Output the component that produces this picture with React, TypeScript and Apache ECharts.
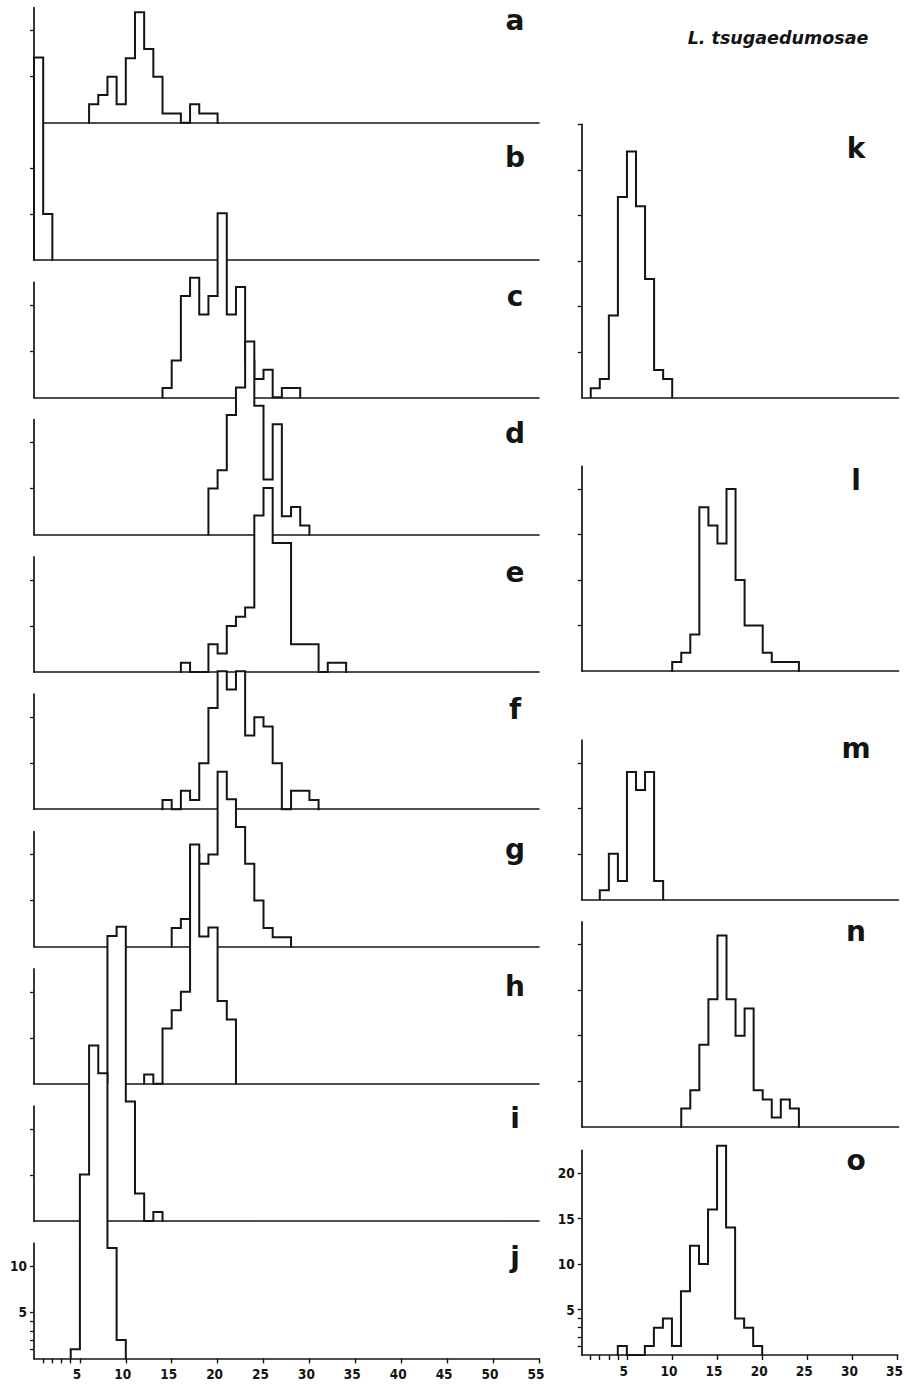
import React, { useEffect, useRef } from "react";
import * as echarts from "echarts";

// ---------- data (counts per unit bin, first bin starts at start*) ----------
const leftLetters = ["a", "b", "c", "d", "e", "f", "g", "h", "i", "j"];
const rightLetters = ["k", "l", "m", "n", "o"];
const titleText = "L. tsugaedumosae";

const startA = 6;
const countsA = [2, 3, 5, 2, 7, 12, 8, 5, 1, 1, 0, 2, 1, 1];
const startB = 0;
const countsB = [22, 5];
const startC = 14;
const countsC = [1, 4, 11, 13, 9, 11, 20, 9, 12, 4, 2, 3, 0, 1, 1];
const startD = 19;
const countsD = [5, 7, 13, 16, 21, 14, 6, 12, 2, 3, 1];
const startE = 16;
const countsE = [1, 0, 0, 3, 2, 5, 6, 7, 17, 20, 14, 14, 3, 3, 3, 0, 1, 1];
const startF = 14;
const countsF = [1, 0, 2, 1, 5, 11, 15, 13, 15, 8, 10, 9, 5, 0, 2, 2, 1];
const startG = 15;
const countsG = [2, 3, 10, 9, 10, 19, 16, 13, 9, 5, 2, 1, 1];
const startH = 12;
const countsH = [1, 0, 6, 8, 10, 26, 16, 17, 9, 7];
const startI = 6;
const countsI = [5, 15, 31, 32, 13, 3, 0, 1];
const startJ = 4;
const countsJ = [1, 20, 34, 31, 12, 2];

const startK = 1;
const countsK = [1, 2, 9, 22, 27, 21, 13, 3, 2];
const startL = 10;
const countsL = [1, 2, 4, 18, 16, 14, 20, 10, 5, 5, 2, 1, 1, 1];
const startM = 2;
const countsM = [1, 5, 2, 14, 12, 14, 2];
const startN = 11;
const countsN = [2, 4, 9, 14, 21, 14, 10, 13, 4, 3, 1, 3, 2];
const startO = 4;
const countsO = [1, 0, 0, 1, 3, 4, 1, 7, 12, 10, 16, 23, 14, 4, 3, 1];

const leftStarts = [startA, startB, startC, startD, startE, startF, startG, startH, startI, startJ];
const leftCounts = [countsA, countsB, countsC, countsD, countsE, countsF, countsG, countsH, countsI, countsJ];
const rightStarts = [startK, startL, startM, startN, startO];
const rightCounts = [countsK, countsL, countsM, countsN, countsO];

const leftXLabels = [5, 10, 15, 20, 25, 30, 35, 40, 45, 50, 55];
const leftXTicks = [1, 2, 3, 4, 5, 10, 15, 20, 25, 30, 35, 40, 45, 50, 55];
const rightXLabels = [5, 10, 15, 20, 25, 30, 35];
const rightXTicks = [1, 2, 3, 4, 5, 10, 15, 20, 25, 30, 35];
const leftYTicks = [5, 10];
const bottomLeftYTicks = [1, 2, 3, 4, 5, 10];
const bottomLeftYLabels = [5, 10];
const rightYMax = [30, 22.5, 17.5, 22.5, 22.5];
const rightYTicks = [
  [5, 10, 15, 20, 25, 30],
  [5, 10, 15, 20],
  [5, 10, 15],
  [5, 10, 15, 20],
  [1, 2, 3, 4, 5, 10, 15, 20],
];
const bottomRightYLabels = [5, 10, 15, 20];

// ---------- layout ----------
const INK = "#141414";
const L_LEFT = 34;
const L_UX = 9.18;
const L_XMAX = 55;
const L_UY = 9.2;
const L_YMAX = 12.5;
const L_BASE0 = 122.7;
const L_STEP = 137.3;
const R_LEFT = 581.7;
const R_UX = 9.05;
const R_XMAX = 35;
const R_UY = 9.1;
const rightBase = [397.3, 671, 899.3, 1126.7, 1355];
const leftLetterY = [20, 157, 296, 433, 572, 709, 849, 986, 1118, 1257];
const rightLetterY = [148, 480, 748, 931, 1160];

function stepPoints(start: number, counts: number[]) {
  const pts: number[][] = [[start, 0]];
  counts.forEach((c, i) => pts.push([start + i, c]));
  pts.push([start + counts.length, 0]);
  return pts;
}

const tickFont = {
  fontSize: 13.5,
  fontWeight: "bold" as const,
  fontFamily: "'DejaVu Sans Condensed', 'Liberation Sans Narrow', 'Liberation Sans', sans-serif",
  color: INK,
};

function buildOption() {
  const grid: any[] = [];
  const xAxis: any[] = [];
  const yAxis: any[] = [];
  const series: any[] = [];

  const addPanel = (
    p: number,
    left: number,
    base: number,
    ux: number,
    uy: number,
    xMax: number,
    yMax: number,
    bottom: boolean,
    xTicks: number[],
    xLabels: number[],
    yTicks: number[],
    yLabels: number[] | null,
    start: number,
    counts: number[]
  ) => {
    const h = yMax * uy;
    grid.push({ left, top: base - h, width: xMax * ux, height: h });
    xAxis.push({
      gridIndex: p,
      type: "value",
      min: 0,
      max: xMax,
      interval: 5,
      z: 3 * p + 2,
      axisLine: { show: true, onZero: false, lineStyle: { color: INK, width: 1.7 } },
      axisTick: bottom
        ? { show: true, customValues: xTicks, length: 5, inside: false, lineStyle: { color: INK, width: 1.4 } }
        : { show: false },
      axisLabel: bottom
        ? {
            show: true,
            customValues: xLabels,
            margin: 9,
            showMaxLabel: true,
            showMinLabel: true,
            padding: [0, 6, 0, 0],
            ...tickFont,
          }
        : { show: false },
      splitLine: { show: false },
    });
    yAxis.push({
      gridIndex: p,
      type: "value",
      min: 0,
      max: yMax,
      interval: 5,
      z: 3 * p + 2,
      axisLine: { show: true, onZero: false, lineStyle: { color: INK, width: 1.7 } },
      axisTick: { show: true, customValues: yTicks, length: 4, inside: false, lineStyle: { color: INK, width: 1.3 } },
      axisLabel: yLabels
        ? { show: true, customValues: yLabels, margin: 7, ...tickFont }
        : { show: false },
      splitLine: { show: false },
    });
    const pts = stepPoints(start, counts);
    series.push({
      type: "line",
      xAxisIndex: p,
      yAxisIndex: p,
      data: pts,
      step: "end",
      symbol: "none",
      clip: false,
      silent: true,
      z: 3 * p + 1,
      lineStyle: { width: 0, opacity: 0 },
      areaStyle: { color: "#ffffff", opacity: 1 },
    });
    series.push({
      type: "line",
      xAxisIndex: p,
      yAxisIndex: p,
      data: pts,
      step: "end",
      symbol: "none",
      clip: false,
      silent: true,
      z: 3 * p + 3,
      lineStyle: { color: INK, width: 2, join: "miter", cap: "square" },
    });
  };

  leftCounts.forEach((counts, p) => {
    const bottom = p === leftCounts.length - 1;
    addPanel(
      p,
      L_LEFT,
      L_BASE0 + L_STEP * p,
      L_UX,
      L_UY,
      L_XMAX,
      L_YMAX,
      bottom,
      leftXTicks,
      leftXLabels,
      bottom ? bottomLeftYTicks : leftYTicks,
      bottom ? bottomLeftYLabels : null,
      leftStarts[p],
      counts
    );
  });
  rightCounts.forEach((counts, r) => {
    const p = leftCounts.length + r;
    const bottom = r === rightCounts.length - 1;
    addPanel(
      p,
      R_LEFT,
      rightBase[r],
      R_UX,
      R_UY,
      R_XMAX,
      rightYMax[r],
      bottom,
      rightXTicks,
      rightXLabels,
      rightYTicks[r],
      bottom ? bottomRightYLabels : null,
      rightStarts[r],
      counts
    );
  });

  const letterStyle = (text: string) => ({
    text,
    fill: INK,
    font: "bold 28px 'DejaVu Sans', sans-serif",
    textAlign: "center",
    textVerticalAlign: "middle",
  });
  const graphic: any[] = [
    ...leftLetters.map((t, i) => ({ type: "text", x: 515, y: leftLetterY[i], z: 100, style: letterStyle(t) })),
    ...rightLetters.map((t, i) => ({ type: "text", x: 856, y: rightLetterY[i], z: 100, style: letterStyle(t) })),
    {
      type: "text",
      x: 778,
      y: 38,
      z: 100,
      style: {
        text: titleText,
        fill: INK,
        font: "italic bold 17.5px 'DejaVu Sans', sans-serif",
        textAlign: "center",
        textVerticalAlign: "middle",
      },
    },
  ];

  return {
    animation: false,
    backgroundColor: "#ffffff",
    grid,
    xAxis,
    yAxis,
    series,
    graphic,
  };
}

export default function App() {
  const ref = useRef<HTMLDivElement>(null);
  useEffect(() => {
    if (!ref.current) return;
    const chart = echarts.init(ref.current, undefined, { renderer: "svg" });
    chart.setOption(buildOption() as any);
    return () => chart.dispose();
  }, []);
  return (
    <div
      ref={ref}
      style={{ position: "absolute", left: 0, top: 0, width: 906, height: 1387, background: "#fff" }}
    />
  );
}
